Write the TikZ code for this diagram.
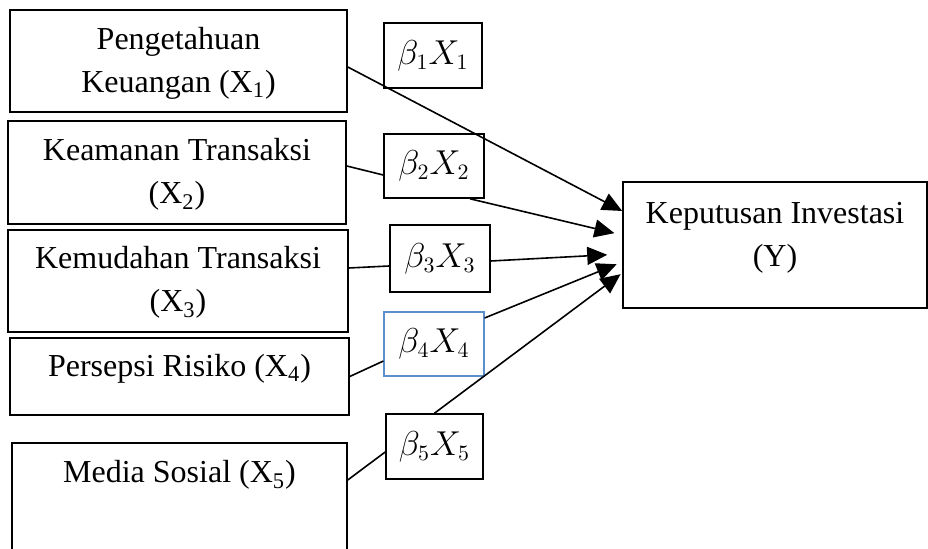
\documentclass[tikz,border=0pt]{standalone}
\usepackage{fontspec}
\setmainfont{Liberation Serif}
\usepackage{tikz}
\usetikzlibrary{arrows.meta}

\definecolor{boxblue}{RGB}{91,142,204}
\tikzset{
  varbox/.style = {draw, thick, inner sep=0pt, align=center},
  coefbox/.style = {draw, thick, inner sep=0pt, minimum width=49pt, minimum height=32.5pt},
  linkline/.style = {thick},
  arrowline/.style = {thick, -{Triangle[length=10pt, width=9pt]}}
}

\begin{document}
\begin{tikzpicture}[x=0.5pt, y=-0.5pt, font=\fontsize{16}{21.5}\selectfont]
\clip (0,0) rectangle (928,549);

% variables
\node[varbox, minimum width=168.5pt, minimum height=51pt, text height=32.5pt, text depth=1pt] (x1) at (178.5,61) {Pengetahuan\\Keuangan (X\textsubscript{1})};
\node[varbox, minimum width=169pt, minimum height=51.5pt, text height=32.5pt, text depth=1pt] (x2) at (177,172.5) {Keamanan Transaksi\\(X\textsubscript{2})};
\node[varbox, minimum width=170pt, minimum height=51pt, text height=32.5pt, text depth=1.5pt] (x3) at (178,281) {Kemudahan Transaksi\\(X\textsubscript{3})};
\node[varbox, minimum width=169.5pt, minimum height=38.5pt, text height=11pt, text depth=11pt] (x4) at (179.5,376.5) {Persepsi Risiko (X\textsubscript{4})};
\node[varbox, minimum width=167.5pt, minimum height=60pt, text height=11pt, text depth=31pt] (x5) at (179.5,503) {Media Sosial (X\textsubscript{5})};

\node[varbox, minimum width=152pt, minimum height=63pt, text height=32.5pt, text depth=10.5pt] (y) at (775,245) {Keputusan Investasi\\(Y)};

% coefficients
\node[coefbox] (b1) at (433,55.5) {$\beta_1X_1$};
\node[coefbox, minimum width=50pt, minimum height=32pt] (b2) at (434,166) {$\beta_2X_2$};
\node[coefbox, minimum width=50pt, minimum height=33.5pt] (b3) at (440,258.5) {$\beta_3X_3$};
\node[coefbox, minimum width=50pt, minimum height=32pt, draw=boxblue, line width=0.6pt] (b4) at (434,344) {$\beta_4X_4$};
\node[coefbox, minimum width=48.5pt] (b5) at (434.5,446.5) {$\beta_5X_5$};

\draw[arrowline] ([yshift=-3pt]x1.east) -- ([yshift=17pt]y.west);

\draw[linkline] ([yshift=3.25pt]x2.east) -- ([yshift=-4.5pt]b2.west);
\draw[arrowline, shorten >=4pt] ([xshift=18pt]b2.south) -- ([yshift=5pt]y.west);

\draw[linkline] ([yshift=6.5pt]x3.east) -- ([yshift=-3.75pt]b3.west);
\draw[arrowline, shorten >=7.5pt] ([yshift=-1.25pt]b3.east) -- ([yshift=-4.5pt]y.west);

\draw[linkline] (x4.east) -- ([yshift=-8.5pt]b4.west);
\draw[arrowline, shorten >=3pt] ([yshift=13pt]b4.east) -- ([yshift=-8.5pt]y.west);

\draw[linkline] ([yshift=11.5pt]x5.east) -- ([yshift=-2.75pt]b5.west);
\draw[arrowline, shorten >=1pt] (b5.north) -- ([yshift=-14pt]y.west);
\end{tikzpicture}
\end{document}
